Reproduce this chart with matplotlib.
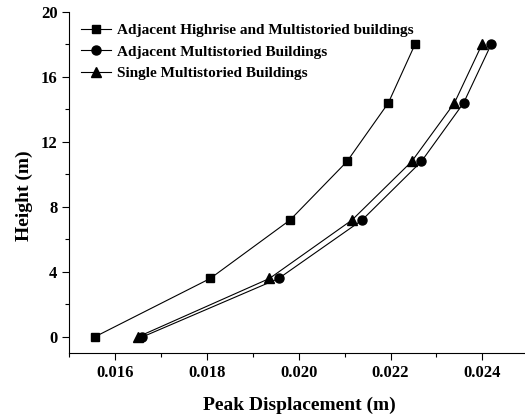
import matplotlib
matplotlib.use("Agg")
import matplotlib.pyplot as plt
from matplotlib.ticker import MultipleLocator

height = [0, 3.6, 7.2, 10.8, 14.4, 18]
highrise = [0.01555, 0.01807, 0.01981, 0.02105, 0.02195, 0.02253]
adjacent = [0.01659, 0.01956, 0.02138, 0.02267, 0.02359, 0.02419]
single = [0.01649, 0.01936, 0.02116, 0.02246, 0.02339, 0.02399]
labels = ["Adjacent Highrise and Multistoried buildings",
          "Adjacent Multistoried Buildings",
          "Single Multistoried Buildings"]

plt.rcParams['font.family'] = ['Liberation Serif', 'DejaVu Serif']
plt.rcParams['font.weight'] = 'bold'

fig = plt.figure(figsize=(5.25, 4.19), dpi=100)
ax = fig.add_axes([69.3/525, 66/419, 1 - 69.3/525, (353-12)/419])

ax.plot(highrise, height, '-s', color='black', lw=0.8, ms=6, label=labels[0])
ax.plot(adjacent, height, '-o', color='black', lw=0.8, ms=6.5, label=labels[1])
ax.plot(single, height, '-^', color='black', lw=0.8, ms=6.5, label=labels[2])

ax.set_xlim(0.015, 0.015 + (525-69.3)/45.9*0.001)
ax.set_ylim(-0.985, 20)
ax.xaxis.set_major_locator(MultipleLocator(0.002))
ax.xaxis.set_minor_locator(MultipleLocator(0.001))
ax.yaxis.set_major_locator(MultipleLocator(4))
ax.yaxis.set_minor_locator(MultipleLocator(2))
ax.set_xticks([0.016, 0.018, 0.020, 0.022, 0.024])
ax.set_xticklabels(["0.016", "0.018", "0.020", "0.022", "0.024"])
ax.tick_params(which='major', direction='out', length=5, width=0.8, labelsize=12)
ax.tick_params(which='minor', direction='out', length=3, width=0.8)
for lab in ax.get_xticklabels() + ax.get_yticklabels():
    lab.set_fontweight('bold')

ax.spines['top'].set_visible(False)
ax.spines['right'].set_visible(False)
ax.spines['left'].set_linewidth(0.8)
ax.spines['bottom'].set_linewidth(0.8)

ax.set_xlabel("Peak Displacement (m)", fontsize=14, fontweight='bold', va='center')
ax.set_ylabel("Height (m)", fontsize=14, fontweight='bold', va='center')
ax.xaxis.set_label_coords((299-69.3)/455.7, (353-405)/341)
ax.yaxis.set_label_coords((24-69.3)/455.7, (353-196)/341)

leg = ax.legend(loc='upper left', bbox_to_anchor=(0.0, 1.0), frameon=False,
                prop={'weight': 'bold', 'size': 11}, handlelength=2.0,
                handletextpad=0.35, labelspacing=0.52, borderaxespad=0.35)

fig.savefig("out.png", dpi=100)
